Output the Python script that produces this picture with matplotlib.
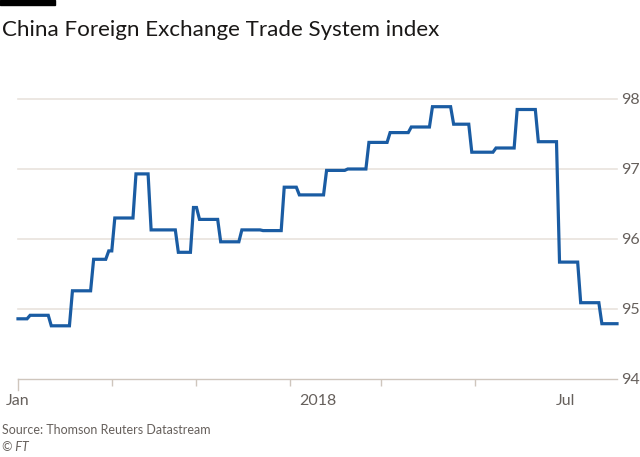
import matplotlib
matplotlib.use("Agg")
import matplotlib.pyplot as plt
import matplotlib.dates as mdates
import numpy as np
import datetime as dt

# ---- data ----
change_dates = ["2018-01-01", "2018-01-05", "2018-01-12", "2018-01-19", "2018-01-26",
                "2018-01-31", "2018-02-02", "2018-02-09", "2018-02-14", "2018-02-23",
                "2018-02-28", "2018-03-02", "2018-03-09", "2018-03-16", "2018-03-23",
                "2018-03-30", "2018-04-04", "2018-04-13", "2018-04-20", "2018-04-27",
                "2018-05-04", "2018-05-11", "2018-05-18", "2018-05-25", "2018-05-31",
                "2018-06-08", "2018-06-15", "2018-06-22", "2018-06-29", "2018-07-06",
                "2018-07-13"]
index_values = [94.86, 94.91, 94.76, 95.26, 95.71,
                95.83, 96.30, 96.93, 96.13, 95.81,
                96.45, 96.28, 95.96, 96.13, 96.12,
                96.74, 96.63, 96.98, 97.00, 97.38,
                97.52, 97.60, 97.89, 97.64, 97.24,
                97.30, 97.85, 97.39, 95.67, 95.09,
                94.79]
last_date = "2018-07-18"
y_ticks = [94, 95, 96, 97, 98]
x_tick_dates = ["2018-01-01", "2018-02-01", "2018-03-01", "2018-04-01",
                "2018-05-01", "2018-06-01", "2018-07-01"]
x_labels = {"2018-01-01": "Jan", "2018-04-10": "2018", "2018-07-01": "Jul"}

title = "China Foreign Exchange Trade System index"
source = "Source: Thomson Reuters Datastream"
credit = "\u00a9 FT"

# ---- build daily-held series (value held until day before next change) ----
d = [np.datetime64(s) for s in change_dates]
xs, ys = [d[0]], [index_values[0]]
for i in range(1, len(d)):
    xs.append(d[i] - np.timedelta64(1, "D")); ys.append(index_values[i - 1])
    xs.append(d[i]); ys.append(index_values[i])
xs.append(np.datetime64(last_date)); ys.append(index_values[-1])
xs = np.array(xs, dtype="datetime64[D]").astype("O")

plt.rcParams["font.family"] = ["Lato", "DejaVu Sans"]
W, H = 640, 457
fig = plt.figure(figsize=(6.4, 4.57), dpi=100)
fig.patch.set_facecolor("white")

x0, x1 = 18, 617
ytop, ybot = 99, 379
ax = fig.add_axes([x0 / W, 1 - ybot / H, (x1 - x0) / W, (ybot - ytop) / H])
ax.set_facecolor("white")

grid_c = "#e9e3dd"
axis_c = "#cfc6bd"
lab_c = "#66605c"

ax.set_ylim(94, 98)
ax.set_xlim(dt.date(2018, 1, 1), dt.datetime.strptime(last_date, "%Y-%m-%d").date())
for v in y_ticks[1:]:
    ax.axhline(v, color=grid_c, lw=1.2, zorder=1, clip_on=False)

ax.plot(xs, ys, color="#1a5ca3", lw=2.3, zorder=3, clip_on=False,
        solid_joinstyle="miter")

for s in ["top", "right", "left"]:
    ax.spines[s].set_visible(False)
ax.spines["bottom"].set_color(axis_c)
ax.spines["bottom"].set_linewidth(1.0)

ax.yaxis.tick_right()
ax.set_yticks(y_ticks)
ax.set_yticklabels([str(v) for v in y_ticks])
ax.tick_params(axis="y", length=0, pad=3, labelsize=11.5, labelcolor=lab_c)

tick_dt = [dt.datetime.strptime(s, "%Y-%m-%d") for s in x_tick_dates]
ax.set_xticks([mdates.date2num(t) for t in tick_dt], minor=True)
ax.tick_params(axis="x", which="minor", length=5, color=axis_c, width=1)
lab_dt = [dt.datetime.strptime(s, "%Y-%m-%d") for s in x_labels]
ax.set_xticks([mdates.date2num(t) for t in lab_dt])
ax.set_xticklabels(list(x_labels.values()))
ax.tick_params(axis="x", which="major", length=0, pad=11, labelsize=11.5, labelcolor=lab_c)
# longer first tick
ax.plot([mdates.date2num(tick_dt[0])] * 2, [94, 93.84], color=axis_c, lw=1,
        clip_on=False, zorder=2)

# black bar and title
fig.patches.append(matplotlib.patches.Rectangle((0, 1 - 5 / H), 55 / W, 5 / H,
                   transform=fig.transFigure, color="#000000", zorder=5))
fig.text(2 / W, 1 - 36 / H, title, fontsize=16.1, color="#1a1817",
         ha="left", va="baseline")
fig.text(2 / W, 1 - 434 / H, source, fontsize=9, color=lab_c, ha="left", va="baseline")
fig.text(2 / W, 1 - 451 / H, credit, fontsize=9, color=lab_c, ha="left",
         va="baseline", style="italic")

fig.savefig("out.png", dpi=100, facecolor="white")
